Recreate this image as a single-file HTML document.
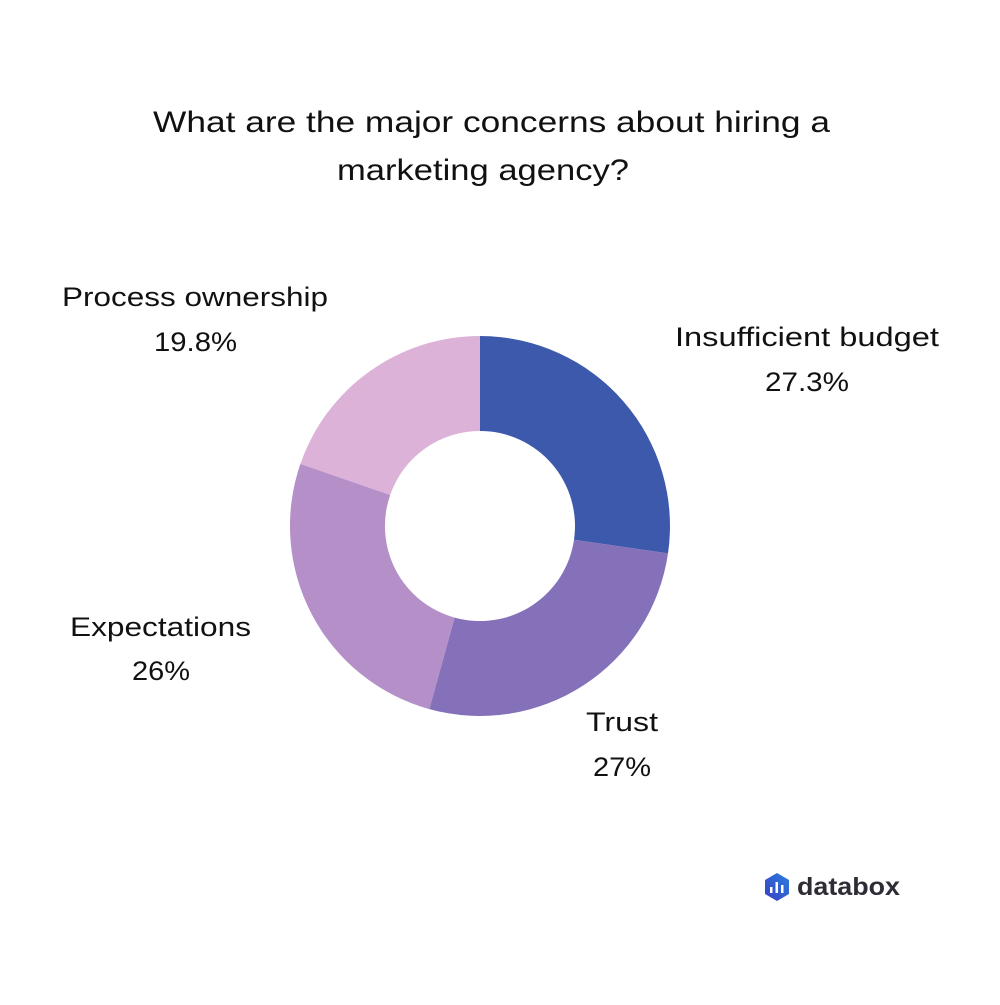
<!DOCTYPE html>
<html><head><meta charset="utf-8"><style>
body{margin:0;background:#fff;}
svg text{font-family:"Liberation Sans",sans-serif;fill:#111;}
</style></head><body>
<svg width="1000" height="1000" viewBox="0 0 1000 1000">
<text x="153" y="132" font-size="30" textLength="677" lengthAdjust="spacingAndGlyphs">What are the major concerns about hiring a</text>
<text x="337" y="180" font-size="30" textLength="292" lengthAdjust="spacingAndGlyphs">marketing agency?</text>
<path d="M480,336 A190,190 0 0 1 668,553.4 L574,539.7 A95,95 0 0 0 480,431 Z" fill="#3d59ab"/>
<path d="M668,553.4 A190,190 0 0 1 429.3,709.1 L454.6,617.6 A95,95 0 0 0 574,539.7 Z" fill="#8471b9"/>
<path d="M429.3,709.1 A190,190 0 0 1 300.4,463.9 L390.2,494.9 A95,95 0 0 0 454.6,617.6 Z" fill="#b48fc8"/>
<path d="M300.4,463.9 A190,190 0 0 1 480,336 L480,431 A95,95 0 0 0 390.2,494.9 Z" fill="#dcb2d8"/>
<text x="62" y="306" font-size="27" textLength="266" lengthAdjust="spacingAndGlyphs">Process ownership</text>
<text x="154" y="351" font-size="27" textLength="83" lengthAdjust="spacingAndGlyphs">19.8%</text>
<text x="675" y="346" font-size="27" textLength="264" lengthAdjust="spacingAndGlyphs">Insufficient budget</text>
<text x="765" y="391" font-size="27" textLength="84" lengthAdjust="spacingAndGlyphs">27.3%</text>
<text x="70" y="636" font-size="27" textLength="181" lengthAdjust="spacingAndGlyphs">Expectations</text>
<text x="132" y="680" font-size="27" textLength="58" lengthAdjust="spacingAndGlyphs">26%</text>
<text x="586" y="731" font-size="27" textLength="72" lengthAdjust="spacingAndGlyphs">Trust</text>
<text x="593" y="776" font-size="27" textLength="58" lengthAdjust="spacingAndGlyphs">27%</text>
<defs><linearGradient id="g" x1="0" y1="1" x2="1" y2="0"><stop offset="0" stop-color="#3b3fc0"/><stop offset="1" stop-color="#2a7ee0"/></linearGradient></defs>
<path d="M777,873 L789,880 L789,894 L777,901 L765,894 L765,880 Z" fill="url(#g)"/>
<rect x="770" y="887" width="2.5" height="6" fill="#fff"/>
<rect x="775.5" y="882" width="2.5" height="11" fill="#fff"/>
<rect x="781" y="885" width="2.5" height="8" fill="#fff"/>
<text x="797" y="895" font-size="25" font-weight="bold" textLength="103" lengthAdjust="spacingAndGlyphs" style="fill:#2d2d35">databox</text>
</svg>
</body></html>
